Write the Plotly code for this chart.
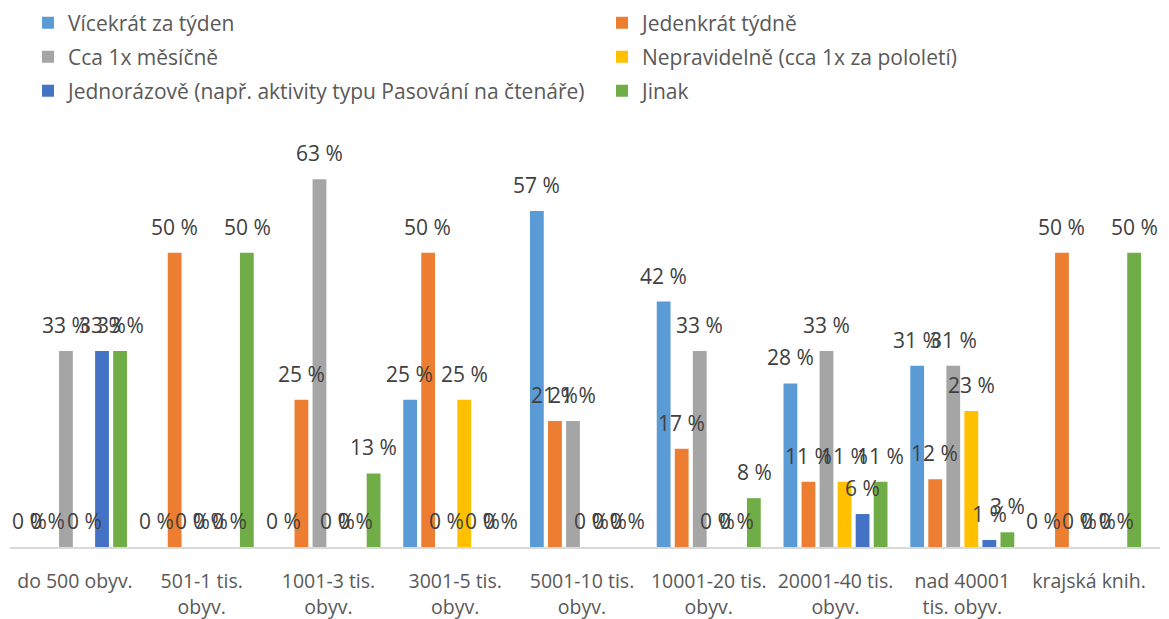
import plotly.graph_objects as go

categories = ["do 500 obyv.", "501-1 tis.<br>obyv.", "1001-3 tis.<br>obyv.", "3001-5 tis.<br>obyv.",
              "5001-10 tis.<br>obyv.", "10001-20 tis.<br>obyv.", "20001-40 tis.<br>obyv.",
              "nad 40001<br>tis. obyv.", "krajská knih."]

series_names = ["Vícekrát za týden", "Jedenkrát týdně", "Cca 1x měsíčně",
                "Nepravidelně (cca 1x za pololetí)",
                "Jednorázově (např. aktivity typu Pasování na čtenáře)", "Jinak"]

vicekrat = [0, 0, 0, 25, 57.1, 41.7, 27.8, 30.8, 0]
jedenkrat = [0, 50, 25, 50, 21.4, 16.7, 11.1, 11.5, 50]
mesicne = [33.3, 0, 62.5, 0, 21.4, 33.3, 33.3, 30.8, 0]
nepravidelne = [0, 0, 0, 25, 0, 0, 11.1, 23.1, 0]
jednorazove = [33.3, 0, 0, 0, 0, 0, 5.6, 1.2, 0]
jinak = [33.3, 50, 12.5, 0, 0, 8.3, 11.1, 2.5, 50]

colors = ["#5B9BD5", "#ED7D31", "#A5A5A5", "#FFC000", "#4472C4", "#70AD47"]
all_values = [vicekrat, jedenkrat, mesicne, nepravidelne, jednorazove, jinak]

FONT = "'Open Sans', sans-serif"
W, H = 1169, 619
ML, MR, MT, MB = 10, 9, 135, 72
BARGAP = 0.146

# legend grid: two columns, three rows
legend_ids = ["legend", "legend2", "legend3", "legend4", "legend5", "legend6"]
leg_cols = [28, 602]
leg_rows = [23, 57, 91]

def fmt(v):
    return f"{int(v + 0.5)} %"

fig = go.Figure()
for name, vals, col, lg in zip(series_names, all_values, colors, legend_ids):
    fig.add_trace(go.Bar(
        x=categories, y=vals, name=name, marker_color=col,
        marker_line_width=0, legend=lg, showlegend=True,
    ))

# data labels placed above each bar (Excel-style spacing)
n = len(all_values)
slot = (W - ML - MR) / len(categories) * (1 - BARGAP) / n
for i, vals in enumerate(all_values):
    for cat, v in zip(categories, vals):
        fig.add_annotation(
            x=cat, y=v, xref="x", yref="y", text=fmt(v), showarrow=False,
            yanchor="bottom", xanchor="center", yshift=10,
            xshift=(i - (n - 1) / 2) * slot,
            font=dict(size=21, color="#404040", family=FONT),
        )

legends = {}
for k, lg in enumerate(legend_ids):
    legends[lg] = dict(
        orientation="h", font=dict(size=21, color="#595959", family=FONT),
        xref="container", yref="container",
        x=leg_cols[k % 2] / W, xanchor="left",
        y=1 - leg_rows[k // 2] / H, yanchor="middle",
        bgcolor="rgba(0,0,0,0)", itemclick=False, itemdoubleclick=False,
    )

fig.update_layout(
    width=W, height=H,
    margin=dict(l=ML, r=MR, t=MT, b=MB),
    paper_bgcolor="white", plot_bgcolor="white",
    showlegend=True,
    barmode="group", bargap=BARGAP, bargroupgap=0.235,
    font=dict(family=FONT, color="#595959"),
    xaxis=dict(showline=True, linecolor="#D9D9D9", linewidth=1.5, ticks="",
               automargin=False, ticklabelstandoff=16,
               tickfont=dict(size=19.5, color="#595959", family=FONT), showgrid=False),
    yaxis=dict(range=[0, 70], visible=False, showgrid=False, automargin=False),
    **legends,
)

fig.write_html("out.html", config={"displayModeBar": False},
               post_script="document.body.style.margin='0';")
